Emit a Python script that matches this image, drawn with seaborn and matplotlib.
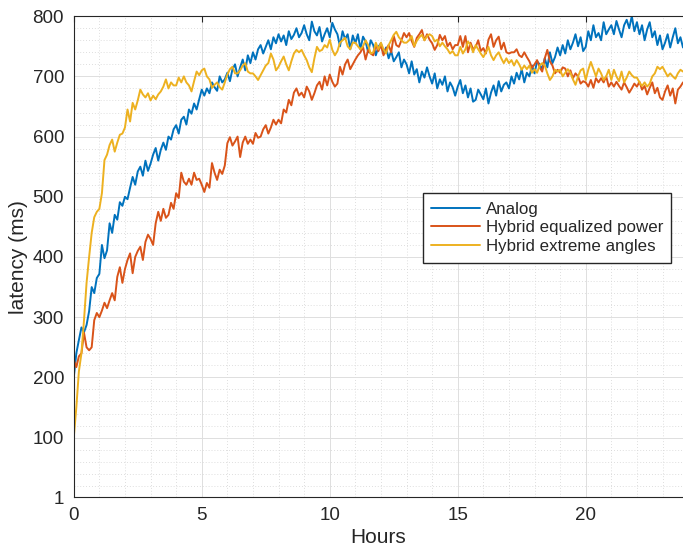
import numpy as np
import pandas as pd
import matplotlib
matplotlib.use("Agg")
import matplotlib.pyplot as plt
import seaborn as sns
from matplotlib.ticker import MultipleLocator, FixedLocator

# --- datos (una muestra cada 0.1 h) ---
hours = np.round(np.arange(239) * 0.1, 1)

analog = [
    200, 240, 262, 283, 275, 287, 310, 350, 340, 365,
    372, 420, 398, 411, 456, 440, 470, 462, 491, 485,
    500, 496, 515, 533, 520, 542, 550, 535, 560, 543,
    555, 570, 581, 560, 578, 590, 578, 600, 595, 612,
    619, 605, 628, 633, 620, 645, 638, 655, 645, 662,
    678, 668, 680, 672, 690, 682, 676, 700, 690, 695,
    706, 692, 712, 720, 700, 715, 728, 710, 735, 722,
    740, 728, 745, 752, 738, 749, 760, 745, 765, 755,
    770, 758, 768, 752, 775, 762, 769, 780, 765, 772,
    785, 770, 760, 791, 775, 768, 782, 758, 770, 780,
    765, 789, 778, 770, 750, 775, 762, 770, 745, 768,
    755, 770, 745, 766, 758, 740, 760, 752, 735, 749,
    755, 738, 748, 730, 742, 725, 732, 740, 715, 728,
    720, 705, 725, 703, 712, 690, 708, 698, 715, 700,
    688, 705, 680, 695, 686, 700, 675, 690, 682, 668,
    683, 694, 672, 685, 665, 680, 658, 661, 678, 670,
    662, 680, 655, 673, 685, 668, 692, 675, 686, 690,
    680, 700, 688, 706, 695, 712, 690, 706, 700, 718,
    705, 725, 720, 712, 730, 715, 740, 722, 732, 748,
    735, 752, 738, 760, 745, 756, 770, 750, 765, 742,
    749, 775, 760, 785, 765, 772, 760, 790, 770, 778,
    785, 770, 792, 778, 765, 785, 794, 780, 800, 775,
    790, 770, 785, 760, 778, 790, 765, 775, 752, 768,
    745, 756, 770, 748, 765, 780, 755, 765, 748,
]

hybrid_eq_power = [
    229, 217, 235, 240, 274, 250, 245, 250, 295, 307,
    300, 311, 324, 315, 328, 340, 328, 367, 383, 357,
    380, 395, 406, 373, 400, 410, 417, 395, 425, 437,
    430, 420, 456, 475, 460, 480, 465, 470, 490, 480,
    506, 498, 540, 525, 520, 530, 520, 540, 528, 530,
    520, 508, 523, 515, 556, 540, 528, 545, 538, 552,
    589, 599, 585, 592, 600, 566, 590, 600, 588, 595,
    588, 606, 598, 600, 612, 619, 605, 615, 628, 620,
    628, 622, 645, 640, 661, 652, 673, 680, 668, 673,
    665, 683, 675, 661, 672, 685, 691, 678, 700, 685,
    703, 691, 683, 688, 716, 703, 720, 728, 712, 720,
    728, 735, 740, 749, 728, 744, 738, 735, 752, 742,
    752, 735, 745, 752, 740, 767, 752, 749, 760, 772,
    765, 772, 759, 749, 764, 770, 777, 760, 770, 761,
    755, 744, 752, 769, 760, 767, 750, 756, 745, 752,
    752, 767, 749, 767, 740, 756, 745, 749, 760, 742,
    747, 738, 761, 770, 749, 760, 766, 745, 756, 740,
    738, 740, 740, 745, 735, 732, 740, 732, 725, 714,
    720, 727, 715, 708, 730, 744, 725, 718, 705, 711,
    706, 715, 713, 700, 710, 697, 705, 700, 688, 692,
    690, 683, 694, 681, 697, 690, 697, 690, 700, 683,
    690, 683, 691, 684, 678, 690, 682, 673, 680, 688,
    683, 691, 678, 684, 670, 681, 690, 672, 681, 665,
    661, 675, 685, 668, 680, 655, 678, 683, 690,
]

hybrid_ext_angles = [
    100, 150, 210, 240, 295, 357, 400, 440, 466, 475,
    480, 506, 561, 570, 586, 595, 575, 590, 603, 605,
    615, 645, 625, 656, 645, 660, 678, 670, 665, 672,
    660, 668, 662, 670, 675, 683, 695, 680, 690, 685,
    685, 698, 690, 700, 690, 685, 675, 692, 708, 702,
    710, 713, 700, 695, 681, 686, 690, 682, 678, 690,
    703, 712, 716, 705, 705, 710, 718, 722, 708, 705,
    705, 700, 694, 702, 710, 718, 722, 738, 728, 710,
    716, 725, 733, 720, 710, 725, 738, 744, 740, 744,
    735, 727, 715, 707, 730, 749, 742, 744, 752, 748,
    761, 744, 735, 742, 756, 760, 764, 750, 745, 756,
    756, 750, 745, 750, 760, 752, 738, 740, 756, 745,
    756, 745, 738, 752, 760, 769, 774, 765, 760, 756,
    756, 760, 767, 750, 759, 765, 769, 760, 767, 770,
    767, 758, 761, 750, 756, 750, 745, 738, 742, 735,
    735, 749, 738, 745, 758, 752, 740, 752, 745, 738,
    732, 740, 749, 735, 727, 735, 740, 730, 722, 730,
    722, 727, 718, 727, 720, 711, 718, 712, 718, 706,
    712, 706, 718, 722, 718, 705, 694, 700, 711, 708,
    711, 700, 706, 712, 706, 695, 686, 700, 710, 713,
    694, 711, 724, 712, 700, 713, 705, 694, 700, 711,
    694, 711, 700, 692, 708, 690, 698, 708, 702, 698,
    698, 690, 684, 690, 683, 688, 700, 705, 716, 712,
    716, 708, 700, 705, 700, 696, 705, 711, 708,
]

series_names = ["Analog", "Hybrid equalized power", "Hybrid extreme angles"]
series_colors = ["#0072BD", "#D95319", "#EDB120"]
y_ticks = [1, 100, 200, 300, 400, 500, 600, 700, 800]
x_ticks = [0, 5, 10, 15, 20]

df = pd.concat([
    pd.DataFrame({"Hours": hours, "latency": vals, "serie": name})
    for name, vals in zip(series_names, [analog, hybrid_eq_power, hybrid_ext_angles])
], ignore_index=True)

sns.set_theme(style="white")
plt.rcParams["font.family"] = ["Liberation Sans", "DejaVu Sans"]

fig = plt.figure(figsize=(6.83, 5.58), dpi=100)
ax = fig.add_axes([0.108, 0.109, 0.892, 0.862])

sns.lineplot(data=df, x="Hours", y="latency", hue="serie",
             palette=dict(zip(series_names, series_colors)),
             estimator=None, linewidth=1.4, ax=ax)

ax.set_xlim(0, 23.8)
ax.set_ylim(1, 800)
ax.xaxis.set_major_locator(FixedLocator(x_ticks))
ax.yaxis.set_major_locator(FixedLocator(y_ticks))
ax.xaxis.set_minor_locator(MultipleLocator(1))
ax.yaxis.set_minor_locator(FixedLocator([v for v in range(20, 800, 20) if v % 100]))

ax.grid(which="major", color="#dedede", linestyle="-", linewidth=0.7)
ax.grid(which="minor", color="#d4d4d4", linestyle=(0, (1, 2.5)), linewidth=0.6)
ax.set_axisbelow(True)

for side in ["left", "bottom", "top"]:
    ax.spines[side].set_color("#262626")
    ax.spines[side].set_linewidth(0.8)
ax.spines["right"].set_visible(False)
ax.tick_params(which="major", direction="in", length=4, width=0.8,
               top=True, labelsize=13.5, colors="#262626", pad=7)
ax.tick_params(which="minor", length=0)

ax.set_xlabel("Hours", fontsize=15, color="#262626", labelpad=3)
ax.set_ylabel("latency (ms)", fontsize=15, color="#262626", labelpad=3)

ax.legend(loc="upper left", bbox_to_anchor=(0.573, 0.632), borderaxespad=0,
          fontsize=12.2, handlelength=2.9, handletextpad=0.3, labelspacing=0.22,
          borderpad=0.5, frameon=True, fancybox=False, framealpha=1,
          edgecolor="#262626", title=None)

fig.savefig("out.png", dpi=100)
